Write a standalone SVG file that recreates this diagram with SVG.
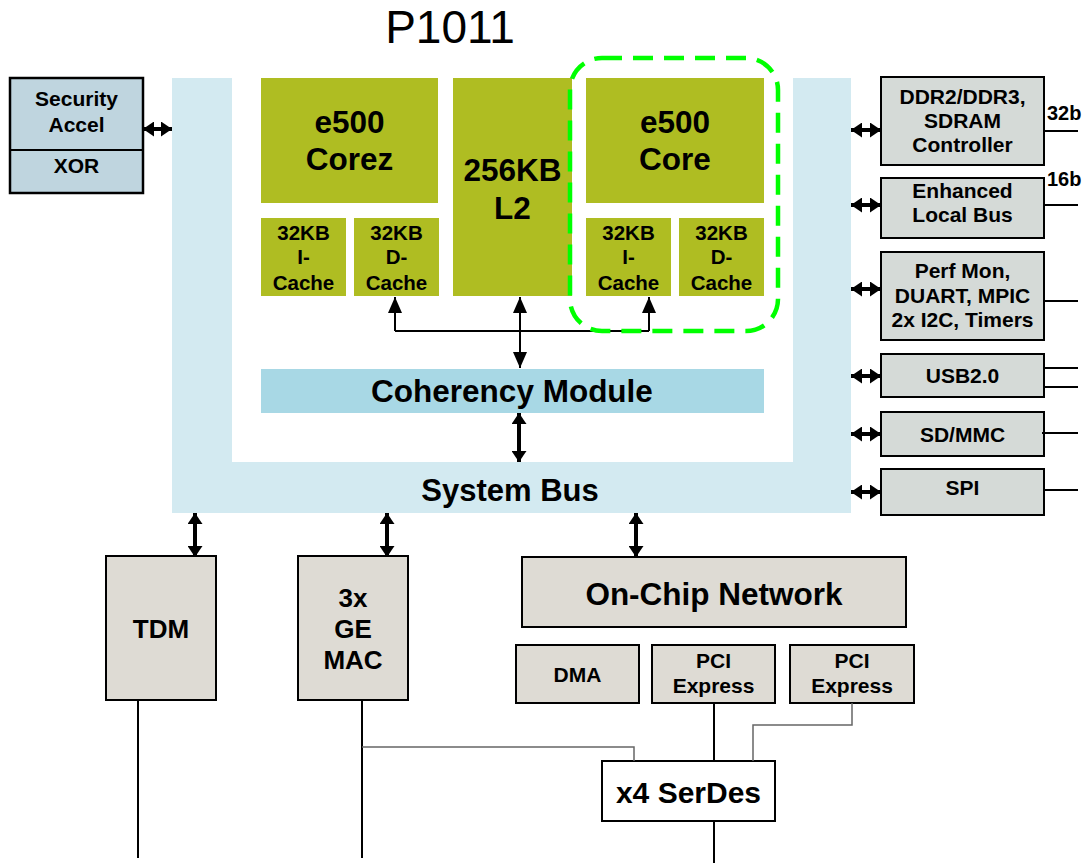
<svg xmlns="http://www.w3.org/2000/svg" width="1082" height="863" viewBox="0 0 1082 863">
<defs>
<marker id="a1" viewBox="0 0 10 10" preserveAspectRatio="none" markerUnits="userSpaceOnUse" markerWidth="16" markerHeight="14" refX="10" refY="5" orient="auto-start-reverse"><path d="M0,0 L10,5 L0,10 z" fill="#000"/></marker>
<marker id="a2" viewBox="0 0 10 10" preserveAspectRatio="none" markerUnits="userSpaceOnUse" markerWidth="11" markerHeight="15" refX="10" refY="5" orient="auto-start-reverse"><path d="M0,0 L10,5 L0,10 z" fill="#000"/></marker>
<style>
text{font-family:"Liberation Sans",Arial,sans-serif;font-weight:bold;fill:#000;text-anchor:middle}
.olive{fill:#afbd22}
.gbox{fill:#d5dad7;stroke:#000;stroke-width:2}
.wbox{fill:#dedbd4;stroke:#000;stroke-width:2}
.big{font-size:31.5px}
.mid{font-size:20.5px}
.lbl{font-size:21px}
.thin{stroke:#000;stroke-width:2;fill:none}
.bus{stroke:#000;stroke-width:4;fill:none}
.gray{stroke:#666;stroke-width:1.5;fill:none}
</style>
</defs>
<text x="450" y="43" style="font-weight:normal;font-size:46px">P1011</text>
<g id="system-bus">
<path d="M172,78 H232 V462 H793 V78 H851 V513 H172 Z" fill="#d3eaf1"/>
<text x="510" y="501" class="big" style="font-size:31px">System Bus</text>
</g>
<g id="core0">
<rect x="261" y="78" width="177" height="125" class="olive"/>
<text x="349.5" y="133" class="big">e500</text>
<text x="349.5" y="170" class="big">Corez</text>
</g>
<g id="icache0">
<rect x="261" y="218" width="85" height="78" class="olive"/>
<text x="303.5" y="240" class="mid">32KB</text>
<text x="303.5" y="264" class="mid">I-</text>
<text x="303.5" y="290" class="mid">Cache</text>
</g>
<g id="dcache0">
<rect x="354" y="218" width="85" height="78" class="olive"/>
<text x="396.5" y="240" class="mid">32KB</text>
<text x="396.5" y="264" class="mid">D-</text>
<text x="396.5" y="290" class="mid">Cache</text>
</g>
<g id="l2">
<rect x="453" y="78" width="119" height="218" class="olive"/>
<text x="512.5" y="181" class="big">256KB</text>
<text x="512.5" y="219" class="big">L2</text>
</g>
<g id="core1">
<rect x="586" y="78" width="178" height="125" class="olive"/>
<text x="675" y="133" class="big">e500</text>
<text x="675" y="170" class="big">Core</text>
</g>
<g id="icache1">
<rect x="586" y="218" width="85" height="78" class="olive"/>
<text x="628.5" y="240" class="mid">32KB</text>
<text x="628.5" y="264" class="mid">I-</text>
<text x="628.5" y="290" class="mid">Cache</text>
</g>
<g id="dcache1">
<rect x="679" y="218" width="85" height="78" class="olive"/>
<text x="721.5" y="240" class="mid">32KB</text>
<text x="721.5" y="264" class="mid">D-</text>
<text x="721.5" y="290" class="mid">Cache</text>
</g>
<g id="coherency">
<rect x="261" y="369" width="503" height="44" fill="#a8d8e5"/>
<text x="512" y="402" class="big">Coherency Module</text>
</g>
<g id="security">
<rect x="10" y="78" width="133" height="115" fill="#bfd5df" stroke="#000" stroke-width="2.5"/>
<line x1="10" y1="150" x2="143" y2="150" stroke="#000" stroke-width="2"/>
<text x="76.5" y="106" class="lbl">Security</text>
<text x="76.5" y="132" class="lbl">Accel</text>
<text x="76.5" y="173" class="lbl">XOR</text>
</g>
<g id="ddr">
<rect x="881" y="77" width="163" height="88" class="gbox"/>
<text x="962.5" y="104" class="lbl">DDR2/DDR3,</text>
<text x="962.5" y="128" class="lbl">SDRAM</text>
<text x="962.5" y="152" class="lbl">Controller</text>
</g>
<g id="elbc">
<rect x="881" y="178" width="163" height="60" class="gbox"/>
<text x="962.5" y="198" class="lbl">Enhanced</text>
<text x="962.5" y="222" class="lbl">Local Bus</text>
</g>
<g id="perf">
<rect x="881" y="252" width="163" height="88" class="gbox"/>
<text x="962.5" y="278" class="lbl">Perf Mon,</text>
<text x="962.5" y="302.5" class="lbl">DUART, MPIC</text>
<text x="962.5" y="327" class="lbl">2x I2C, Timers</text>
</g>
<g id="usb">
<rect x="881" y="354" width="163" height="43" class="gbox"/>
<text x="962.5" y="383" class="lbl">USB2.0</text>
</g>
<g id="sdmmc">
<rect x="881" y="412" width="163" height="44" class="gbox"/>
<text x="962.5" y="442" class="lbl">SD/MMC</text>
</g>
<g id="spi">
<rect x="881" y="469" width="163" height="46" class="gbox"/>
<text x="962.5" y="495" class="lbl">SPI</text>
</g>
<g id="tdm">
<rect x="106" y="556" width="110" height="144" class="wbox"/>
<text x="161" y="638" style="font-size:26px">TDM</text>
</g>
<g id="gemac">
<rect x="298" y="556" width="110" height="144" class="wbox"/>
<text x="353" y="607" style="font-size:26px">3x</text>
<text x="353" y="638" style="font-size:26px">GE</text>
<text x="353" y="669" style="font-size:26px">MAC</text>
</g>
<g id="ocn">
<rect x="522" y="557" width="384" height="70" class="wbox"/>
<text x="714" y="605" class="big">On-Chip Network</text>
</g>
<g id="dma">
<rect x="516" y="645" width="123" height="58" class="wbox"/>
<text x="577.5" y="682" class="lbl">DMA</text>
</g>
<g id="pcie1">
<rect x="652" y="645" width="123" height="58" class="wbox"/>
<text x="713.5" y="668" class="lbl">PCI</text>
<text x="713.5" y="693" class="lbl">Express</text>
</g>
<g id="pcie2">
<rect x="790" y="645" width="124" height="58" class="wbox"/>
<text x="852" y="668" class="lbl">PCI</text>
<text x="852" y="693" class="lbl">Express</text>
</g>
<g id="serdes">
<rect x="602" y="761" width="173" height="60" fill="#fff" stroke="#000" stroke-width="2"/>
<text x="688.5" y="803" style="font-size:30px">x4 SerDes</text>
</g>
<g id="connectors">
<path d="M395,331 H649" class="thin"/>
<line x1="395" y1="331" x2="395" y2="297" class="thin" marker-end="url(#a1)"/>
<line x1="649" y1="331" x2="649" y2="297" class="thin" marker-end="url(#a1)"/>
<line x1="520" y1="297" x2="520" y2="368" class="thin" marker-start="url(#a1)" marker-end="url(#a1)"/>
<line x1="519" y1="413" x2="519" y2="462" class="bus" marker-start="url(#a2)" marker-end="url(#a2)"/>
<line x1="143" y1="129" x2="172" y2="129" class="bus" marker-start="url(#a2)" marker-end="url(#a2)"/>
<line x1="851" y1="130" x2="881" y2="130" class="bus" marker-start="url(#a2)" marker-end="url(#a2)"/>
<line x1="851" y1="205" x2="881" y2="205" class="bus" marker-start="url(#a2)" marker-end="url(#a2)"/>
<line x1="851" y1="289" x2="881" y2="289" class="bus" marker-start="url(#a2)" marker-end="url(#a2)"/>
<line x1="851" y1="376" x2="881" y2="376" class="bus" marker-start="url(#a2)" marker-end="url(#a2)"/>
<line x1="851" y1="434" x2="881" y2="434" class="bus" marker-start="url(#a2)" marker-end="url(#a2)"/>
<line x1="851" y1="492" x2="881" y2="492" class="bus" marker-start="url(#a2)" marker-end="url(#a2)"/>
<line x1="195" y1="513" x2="195" y2="557" class="bus" marker-start="url(#a2)" marker-end="url(#a2)"/>
<line x1="387" y1="513" x2="387" y2="557" class="bus" marker-start="url(#a2)" marker-end="url(#a2)"/>
<line x1="636" y1="513" x2="636" y2="557" class="bus" marker-start="url(#a2)" marker-end="url(#a2)"/>
<line x1="1044" y1="131" x2="1078" y2="131" class="thin"/>
<line x1="1044" y1="205" x2="1078" y2="205" class="thin"/>
<line x1="1044" y1="301" x2="1078" y2="301" class="thin"/>
<line x1="1044" y1="368" x2="1078" y2="368" class="thin"/>
<line x1="1044" y1="387" x2="1078" y2="387" class="thin"/>
<line x1="1042" y1="433" x2="1078" y2="433" class="thin"/>
<line x1="1044" y1="490" x2="1078" y2="490" class="thin"/>
<text x="1047" y="120" class="lbl" style="text-anchor:start;font-size:20px">32b</text>
<text x="1047" y="186" class="lbl" style="text-anchor:start;font-size:20px">16b</text>
<line x1="138" y1="700" x2="138" y2="858" class="thin"/>
<line x1="362" y1="700" x2="362" y2="858" class="thin"/>
<path d="M362,747 H634 V761" class="gray"/>
<path d="M852,703 V725 H753 V761" class="gray"/>
<line x1="714" y1="703" x2="714" y2="761" class="thin"/>
<line x1="714" y1="821" x2="714" y2="863" class="thin"/>
</g>
<g id="highlight">
<rect x="570" y="58" width="208" height="273" rx="32" ry="32" fill="none" stroke="#00ff00" stroke-width="4.5" stroke-dasharray="20 11"/>
</g>
</svg>
